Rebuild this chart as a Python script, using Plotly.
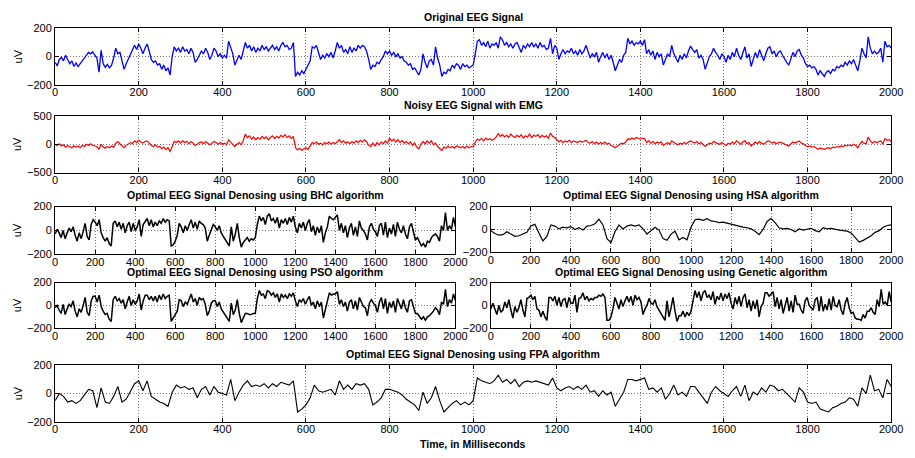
import numpy as np
import plotly.graph_objects as go

# ---- signal samples (uV) ----
# original EEG and noisy EEG: 5 ms apart
original_eeg = [
    -40, -65, -20, -5, -30, 10, -20, -50, -30, -70,
    -45, -70, -50, -30, -10, 15, 30, 20, 35, 10,
    -10, -110, 45, -50, -75, -55, -80, -60, -10, 60,
    20, 30, -40, -90, -50, -20, 10, 40, 80, 50,
    90, 60, 20, 60, 90, 40, -20, -40, -30, -60,
    -50, -90, -60, -100, -80, -130, 0, 70, 40, 60,
    30, 70, 40, 50, 20, 60, 30, -40, -20, 10,
    40, 20, 60, 30, -20, 10, 60, 40, 0, 20,
    -10, 10, -10, 110, 60, 20, -60, -20, 10, -20,
    40, 100, 60, 80, 40, 70, 30, 60, 40, 80,
    50, 70, 40, 60, 80, 50, 70, 40, 80, 100,
    70, 80, 50, 60, 100, -140, -110, -130, -100, -120,
    -90, -60, -30, 70, 60, 80, 20, -20, 10, -10,
    20, 0, 30, -10, 40, 100, 60, 80, 30, 50,
    20, 70, 30, 60, 40, 80, 60, 80, 70, 40,
    -20, -90, -60, -70, -40, -50, -20, 0, 40, 20,
    40, 10, 30, 0, 20, -10, 0, -30, -40, -60,
    -50, -90, -80, -110, -130, -90, 20, -40, -80, -30,
    -20, -60, 70, -10, -60, -140, -110, -120, -90, -100,
    -60, -80, -50, -60, -90, -50, -70, -60, -80, -70,
    -60, 20, 110, 120, 80, 100, 70, 110, 60, 90,
    80, 100, 60, 140, 120, 80, 100, 70, 90, 60,
    90, 100, 60, 30, 80, 60, 90, 70, 100, 70,
    90, 60, 100, 70, 80, 50, 60, 130, 20, 80,
    60, -20, 20, 50, 20, 40, 30, 60, 20, 40,
    10, 50, 20, 40, 80, 30, -10, 20, 0, 30,
    -40, 0, 30, -10, 20, -20, 10, -40, -100, -60,
    -20, -40, 10, 30, 130, 90, 110, 80, 100, 90,
    110, 80, 120, 20, 50, 10, 40, -20, 30, 0,
    20, -60, -20, 20, 0, 80, 20, -10, -40, 10,
    -20, 20, -10, 40, 75, 50, 30, 50, -10, 10,
    -20, -90, -40, 0, 20, 60, 30, 10, -20, 20,
    0, -40, 10, -20, 30, 0, 60, 10, -20, 30,
    70, -10, 20, -70, -20, 30, -10, 50, 10, -30,
    20, 60, 70, 20, 40, 0, 30, 40, 10, -20,
    -40, -60, -20, 30, 0, 40, 50, 10, -10, -50,
    -70, -60, -80, -70, -90, -130, -100, -120, -140, -110,
    -100, -120, -90, -100, -70, -80, -60, -70, -40, -60,
    -30, -50, -20, -60, -100, -30, 60, 20, -10, 140,
    60, 20, 40, 20, 30, 60, -40, 110, 70, 80,
    60,
]

noisy_eeg_emg = [
    0, -20, 10, -30, -10, -50, -20, -40, -60, -30,
    -50, -30, -60, -20, -40, 0, -20, 10, -20, -30,
    -40, -90, 0, -50, -70, -40, -60, -30, -50, 20,
    50, 10, -30, -60, -20, 0, 30, 10, 60, 30,
    70, 40, 20, 50, 60, 20, -20, -40, -10, -50,
    -40, -80, -50, -90, -60, -130, -20, 50, 30, 60,
    20, 60, 30, 50, 10, 50, 20, -20, 0, 30,
    40, 10, 50, 20, -10, 20, 50, 30, 0, 30,
    0, 20, -10, 80, 40, 10, -40, 0, 30, -10,
    60, 180, 120, 150, 90, 130, 80, 120, 90, 140,
    100, 130, 80, 120, 150, 100, 140, 110, 160, 130,
    170, 120, 150, 100, 140, -60, -100, -70, -110, -80,
    -60, -90, -20, 30, 10, 40, 0, 20, -10, 30,
    10, 40, 0, 30, 10, 50, 80, 30, 60, 20,
    40, 10, 50, 20, 60, 30, 70, 40, 80, 50,
    -20, -40, 20, -30, 30, -10, 40, 10, 60, 20,
    110, 60, 90, 40, 80, 30, 70, 20, 50, 10,
    40, -20, 20, -50, -80, 0, 50, 10, 60, 20,
    60, -10, 20, -40, -80, -110, -50, -70, -30, -60,
    -40, -70, -30, -50, -60, -40, -70, -30, -60, -40,
    -50, 40, 90, 70, 100, 60, 110, 80, 100, 70,
    90, 130, 190, 140, 170, 130, 160, 120, 180, 140,
    120, 160, 130, 170, 110, 150, 130, 180, 120, 160,
    140, 170, 120, 160, 130, 150, 110, 200, 140, 120,
    80, 40, 70, 30, 60, 40, 70, 30, 60, 40,
    30, 60, 40, 50, 70, 30, 20, 50, 10, 40,
    0, 30, 10, 40, 0, 20, -20, -40, -60, -30,
    0, 20, 10, 40, 100, 80, 110, 90, 120, 100,
    90, 110, 100, 30, 60, 20, 50, 10, 40, 20,
    40, -20, 10, 30, 0, 60, 30, 10, -10, 20,
    0, 30, 10, 40, 60, 40, 20, 50, 10, 30,
    0, -40, -10, 20, 10, 50, 30, 20, 0, 30,
    10, -20, 20, 0, 40, 10, 60, 30, 0, 40,
    60, 10, 30, -30, 10, 40, 10, 50, 20, 0,
    30, 60, 50, 20, 40, 10, 30, 40, 20, 0,
    -10, -30, 10, 40, 20, 40, 60, 20, 10, -20,
    -40, -30, -50, -40, -60, -90, -70, -80, -90, -70,
    -60, -80, -50, -60, -40, -50, -30, -40, -20, -30,
    -10, -30, 0, -20, -60, 0, 50, 20, 10, 130,
    60, 20, 50, 30, 40, 60, 0, 100, 70, 80,
    50,
]

# denoised outputs: 10 ms apart
bhc_denoised = [
    -30, 10, -20, -60, 0, -70, -20, 20, -10, 30, -40, -90, -20, -70, -10, 60, -50, -80, 50, 90,
    70, 40, 90, -20, -60, -90, -60, -110, -130, 60, 80, 30, 70, 10, 60, -20, 40, 70, -10, 60,
    0, 30, 90, -50, 50, 80, 100, 40, 90, 30, 70, 40, 80, 60, 100, 70, 90, 80, -130, -120,
    -90, -40, 60, 30, -20, 40, 0, 50, 90, 20, 70, 10, 80, 60, 50, 20, -90, -40, 10, 50,
    30, 0, 40, -20, -50, -80, -110, -130, 30, -90, -30, 60, -60, -140, -100, -80, -60, -90, -70, -80,
    -60, 50, 120, 80, 110, 50, 120, 140, 80, 100, 60, 110, 20, 90, 60, 100, 50, 110, 70, 120,
    30, -20, 60, 20, 70, 0, 60, 90, -10, 40, -40, 30, -20, 40, -100, -20, 30, 120, 100, 90,
    110, 130, 0, 60, -20, 40, -60, 20, 60, -40, 30, -50, 80, 20, 0, -30, -80, 30, 60, 10,
    -10, -50, 40, 60, -40, 70, -60, 20, -30, 50, -50, 70, 10, -20, 40, -30, -70, 30, 60, -10,
    -80, -60, -100, -130, -110, -140, -90, -100, -60, -40, -30, -50, -90, 40, 0, 150, 0, 40, 10, 110, 30,
]

# HSA output is smooth: 20 ms apart
hsa_denoised = [
    -10, -35, -50, -45, -20, -40, -60, -55, -40, -25,
    30, 45, -30, -100, -60, 40, 30, 5, 20, 15,
    25, 0, 15, -5, 30, 35, 50, 90, 40, -80,
    -115, -20, 40, 5, 30, 40, 30, 40, 5, -40,
    -10, 20, -5, -80, -95, -40, -15, -90, -70, -90,
    20, 85, 90, 80, 95, 75, 70, 60, 65, 55,
    50, 35, 30, 20, 15, 5, -15, -45, 0, 70,
    95, 60, 15, 5, 10, 0, -20, 5, -5, 0,
    10, -10, -20, 15, 5, 10, 0, -5, -10, -15,
    -30, -75, -110, -95, -75, -55, -25, -10, 20, 35,
    40,
]

pso_denoised = [
    -20, 0, -40, -70, 10, -80, -30, 10, -10, 40, -50, -100, -30, -60, 0, 70, -60, -90, 40, 80,
    80, 30, 90, -10, -50, -80, -70, -120, -140, 50, 80, 40, 60, 20, 50, -30, 30, 80, 0, 50,
    10, 40, 100, -40, 40, 90, 90, 50, 80, 40, 80, 30, 90, 50, 100, 60, 80, 90, -140, -110,
    -80, -50, 50, 40, -10, 30, 10, 60, 100, 30, 60, 0, 70, 50, 60, 10, -90, -50, 20, 40,
    40, -10, 30, -30, -60, -90, -120, -140, 20, -80, -40, 50, -70, -150, -110, -70, -70, -80, -80, -70,
    -70, 60, 130, 90, 100, 60, 130, 120, 90, 110, 70, 100, 30, 100, 70, 90, 60, 100, 80, 110,
    40, -10, 50, 30, 60, 10, 50, 80, 0, 30, -30, 40, -10, 30, -110, -30, 40, 110, 90, 100,
    100, 120, 10, 50, -10, 30, -50, 30, 50, -30, 40, -40, 70, 30, -10, -20, -90, 20, 50, 20,
    0, -60, 30, 70, -30, 60, -70, 30, -20, 40, -60, 60, 20, -30, 50, -20, -60, 40, 50, 0,
    -70, -70, -90, -120, -100, -130, -100, -90, -70, -50, -20, -40, -80, 30, 10, 140, -10, 50, 20, 100, 40,
]

genetic_denoised = [
    -30, 20, -30, -80, 0, -60, -40, 30, -20, 50, -40, -110, -10, -60, -20, 50, -40, -100, 60, 70,
    90, 50, 80, -30, -40, -100, -50, -100, -130, 70, 70, 40, 80, 0, 70, -10, 50, 60, -20, 70,
    20, 20, 90, -60, 60, 70, 110, 50, 80, 40, 60, 50, 70, 70, 90, 80, 100, 70, -130, -130,
    -100, -30, 70, 20, -30, 50, -10, 40, 80, 30, 80, 0, 90, 50, 70, 30, -80, -30, 0, 60,
    20, 10, 50, -10, -40, -70, -100, -130, 40, -100, -20, 70, -50, -140, -90, -90, -50, -100, -60, -90,
    -50, 40, 130, 70, 120, 40, 110, 130, 70, 90, 50, 120, 10, 80, 50, 110, 40, 100, 60, 110,
    20, -30, 70, 10, 80, -10, 70, 100, -20, 50, -50, 40, -30, 50, -100, -10, 20, 110, 110, 80,
    100, 120, -10, 70, -30, 50, -70, 10, 70, -50, 40, -60, 90, 10, 10, -40, -70, 40, 70, 0,
    -20, -40, 50, 70, -50, 80, -50, 10, -40, 60, -40, 80, 0, -10, 50, -40, -80, 20, 70, -20,
    -70, -60, -110, -120, -120, -130, -80, -110, -50, -50, -20, -60, -80, 50, -10, 140, 10, 30, 0, 120, 30,
]

fpa_denoised = [
    -50, 0, -20, -60, -50, -70, -50, -10, 30, 20, -100, 40, -60, -70, -20, 50, -60, -40, 10, 70,
    90, 20, 90, -20, -40, -60, -70, -90, 10, 60, 40, 50, 30, 40, -30, 30, 50, -10, 50, 10,
    0, -10, 100, -50, 10, 60, 90, 50, 60, 50, 70, 40, 70, 50, 80, 70, 60, 90, -130, -110,
    -80, -30, 60, 20, 10, 20, 30, -10, 90, 30, 60, 30, 70, 60, 70, 30, -80, -60, -30, 30,
    30, 20, 10, -10, -40, -60, -80, -120, 10, -70, -30, 50, -50, -130, -100, -70, -50, -80, -60, -80,
    -50, 110, 90, 80, 70, 90, 130, 80, 100, 70, 100, 50, 80, 90, 80, 90, 80, 70, 60, 110,
    40, 20, 40, 50, 30, 50, 30, 60, 10, 20, -20, 20, -10, 10, -90, -40, 10, 100, 100, 90,
    100, 110, 30, 40, 10, 40, -40, 0, 60, -10, 10, -20, 50, 50, 10, -30, -70, 10, 50, 20,
    0, -20, 20, 50, -20, 60, -50, 10, -10, 40, 10, 60, 50, 20, 30, 0, -30, -60, 40, 10,
    -60, -70, -60, -110, -120, -130, -100, -90, -70, -60, -30, -40, -90, 40, 0, 130, 20, 30, -30, 100, 50,
]

x_tick_vals = list(range(0, 2001, 200))

W, H = 915, 458
FONT = "Liberation Sans, Arial, Helvetica, sans-serif"
TITLE_SIZE = 10.5

# (values, sample step ms, colour, line width, title, pixel box l,r,t,b, y limit, y label, title gap)
panels = [
    (original_eeg, 5, "#0000ff", 1.3, "Original EEG Signal", (53, 903, 23, 81), 200, True, 11.5),
    (noisy_eeg_emg, 5, "#ff0000", 1.2, "Noisy EEG Signal with EMG", (53, 903, 113, 171), 500, True, 11.5),
    (bhc_denoised, 10, "#000000", 1.5, "Optimal EEG Signal Denosing using BHC algorithm", (53, 460, 206, 255), 200, True, 11.5),
    (hsa_denoised, 20, "#000000", 1.2, "Optimal EEG Signal Denosing using HSA algorithm", (496, 903, 206, 253), 200, False, 11.5),
    (pso_denoised, 10, "#000000", 1.5, "Optimal EEG Signal Denosing using PSO algorithm", (53, 460, 284, 331), 200, True, 10.5),
    (genetic_denoised, 10, "#000000", 1.5, "Optimal EEG Signal Denosing using Genetic algorithm", (496, 903, 284, 331), 200, False, 10.5),
    (fpa_denoised, 10, "#000000", 1.1, "Optimal EEG Signal Denosing using FPA algorithm", (53, 903, 369, 427), 200, True, 11.5),
]

fig = go.Figure()
annotations = []
layout_axes = {}

axis_common = dict(
    showline=True, linecolor="black", linewidth=1.2, mirror="allticks",
    ticks="inside", ticklen=4, tickwidth=1, tickcolor="black",
    showgrid=True, gridcolor="rgba(0,0,0,0.55)", griddash="1px,2px", gridwidth=1,
    zeroline=False, tickfont=dict(family=FONT, size=11, color="black"),
    fixedrange=True,
)

for i, (vals, step, color, lw, title, (l, r, t, b), ylim, ylab, gap) in enumerate(panels, start=1):
    v = np.asarray(vals, dtype=float)
    x = np.arange(len(v)) * step
    fig.add_trace(go.Scatter(
        x=x, y=v, mode="lines", line=dict(color=color, width=lw),
        xaxis=f"x{i}", yaxis=f"y{i}", showlegend=False, hoverinfo="skip",
    ))
    xd = [l / W, r / W]
    yd = [1 - b / H, 1 - t / H]
    layout_axes[f"xaxis{i}"] = dict(
        axis_common, domain=xd, anchor=f"y{i}", range=[0, 2000],
        tickvals=x_tick_vals, ticktext=[str(k) for k in x_tick_vals],
        ticklabelstandoff=-3,
    )
    layout_axes[f"yaxis{i}"] = dict(
        axis_common, domain=yd, anchor=f"x{i}", range=[-ylim, ylim],
        tickvals=[-ylim, 0, ylim],
    )
    annotations.append(dict(
        text=f"<b>{title}</b>", x=(l + r) / 2 / W, y=1 - (t - gap) / H,
        xref="paper", yref="paper", xanchor="center", yanchor="middle",
        showarrow=False, font=dict(family=FONT, size=TITLE_SIZE, color="black"),
    ))
    if ylab:
        annotations.append(dict(
            text="uV", x=15 / W, y=1 - (t + b) / 2 / H, textangle=-90,
            xref="paper", yref="paper", xanchor="center", yanchor="middle",
            showarrow=False, font=dict(family=FONT, size=11, color="black"),
        ))

annotations.append(dict(
    text="<b>Time, in Milliseconds</b>", x=478 / W, y=1 - 450 / H,
    xref="paper", yref="paper", xanchor="center", yanchor="middle",
    showarrow=False, font=dict(family=FONT, size=TITLE_SIZE, color="black"),
))

fig.update_layout(
    width=W, height=H, margin=dict(l=0, r=0, t=0, b=0),
    paper_bgcolor="white", plot_bgcolor="white",
    annotations=annotations, **layout_axes,
)

fig.write_html(
    "out.html",
    config={"displayModeBar": False},
    post_script="document.body.style.margin='0';document.body.style.overflow='hidden';",
)
